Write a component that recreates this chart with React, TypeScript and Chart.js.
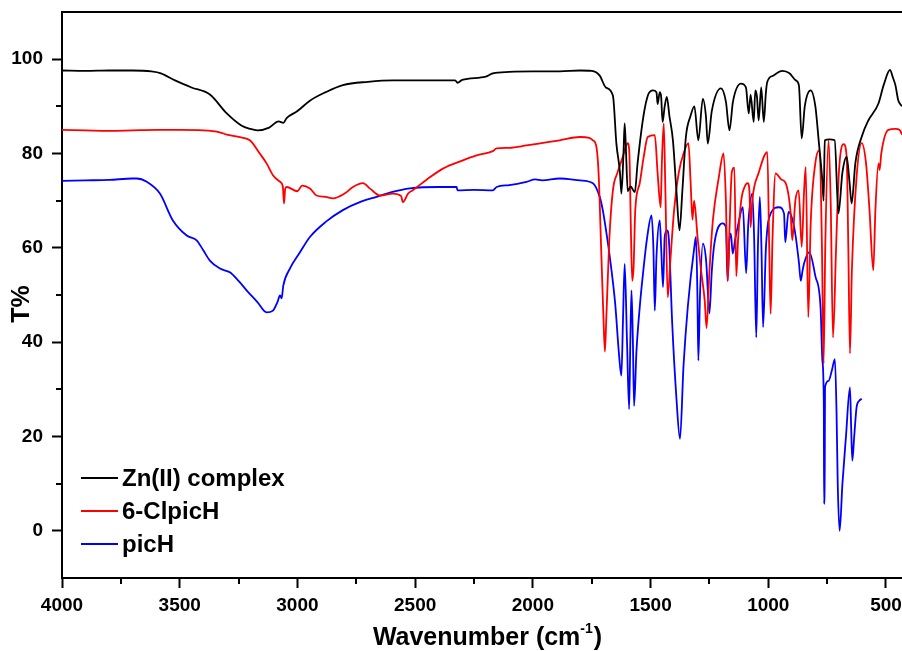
import React, { useEffect, useRef } from "react";
import { Chart, registerables } from "chart.js";
Chart.register(...registerables);

// ---- data (wavenumber cm-1, transmittance %) ----
const zincWn = [4000,3900,3800,3700,3620,3580,3520,3450,3372,3300,3240,3200,3170,3120,3080,3060,3046,3000,2947,2880,2807,2700,2594,2450,2330,2320,2300,2200,2170,2100,2000,1886,1800,1750,1716,1690,1660,1645,1630,1624,1615,1610,1604,1597,1585,1567,1555,1530,1510,1490,1475,1470,1461,1455,1449,1440,1431,1420,1405,1390,1377,1365,1350,1330,1314,1297,1278,1265,1257,1240,1201,1180,1165,1150,1116,1095,1083,1075,1062,1055,1048,1041,1030,1019,1010,1004,980,940,910,883,870,858,845,820,800,786,770,765,760,740,718,702,685,667,655,646,630,600,575,532,510,483,470,460,448,432];
const zincT = [97.6,97.5,97.6,97.6,97.4,97,95.5,94,92.5,88.5,86,85.2,84.9,85.5,86.8,86.5,87.5,89,91.2,93,94.5,95.2,95.5,95.5,95.5,95,95.6,96.3,97,97.3,97.4,97.4,97.6,97.5,96.5,94,92.3,82,76,71.5,80,86.4,80,72,73,71.8,78,88,92.5,93.4,93,90.5,93,92,86.7,90,92,88,82.8,72,63.7,72,83.5,88,90,82.8,91.6,88,82.1,89,93.8,91,84.9,91,94.8,94,88.5,92.5,86.7,93.4,92,87,94,86.7,93,95.2,96.5,97.5,97,95.5,94.5,83.2,90,93.4,90,82.8,74,70,82.8,83,82.8,67.3,76,79.3,74,69.4,78,84,87,90.6,94.5,97.7,96,94.5,91.3,90];

const clWn = [4000,3900,3800,3700,3600,3500,3400,3330,3300,3250,3202,3160,3131,3104,3074,3062,3057,3052,3046,3000,2980,2947,2919,2880,2849,2800,2764,2722,2690,2650,2594,2560,2552,2530,2510,2450,2382,2300,2239,2170,2154,2100,2027,1950,1886,1800,1760,1745,1730,1720,1710,1700,1694,1688,1675,1660,1640,1618,1605,1597,1590,1584,1578,1572,1565,1546,1530,1512,1482,1470,1457,1452,1444,1437,1427,1415,1400,1380,1360,1339,1330,1322,1315,1300,1285,1270,1262,1250,1235,1210,1190,1180,1172,1164,1155,1144,1136,1128,1115,1100,1087,1080,1075,1068,1040,1004,996,990,982,969,945,926,905,898,885,871,858,848,841,830,820,800,782,772,765,758,744,735,725,712,700,680,667,660,653,645,625,603,585,570,554,545,532,527,520,490,460,442,432];
const clT = [85,84.9,84.8,84.9,85,85,84.9,84.5,84,83.5,82.8,80,77.9,75.4,74,73,69.4,72.5,72.9,72,73.2,72.6,71.1,70.8,70.5,71.5,72.9,73.7,72.5,71.1,71.5,71,69.7,71.5,72.2,74.5,76.8,78.5,79.6,80.5,81.1,81.2,81.7,82.3,82.8,83.5,83.3,82.8,81.4,75,60,45,38,45,62,72.2,76,79.3,81.5,82.2,80,65,53,56,68,73.7,79,83.5,83.9,75.8,68.6,78,86.4,72,49.5,58,68,76,80,82.2,74,66,70,62,55,48.8,43,55,66,75,80,70,53,65,76,77,54,62,70,73,73.7,72,64.4,70,76,80.3,60,46,62,75.8,74.5,73.7,67.3,61.6,70,72.2,60.2,72,77.1,45.3,65,78,80.7,60,35.4,60,82.8,70,41,60,76,82,79.3,60,37.6,55,75,82.2,78,68,55.2,68,77.9,76.5,80,85,85.2,85,84];

const picWn = [4000,3900,3800,3700,3683,3640,3584,3529,3470,3428,3400,3372,3329,3287,3250,3216,3170,3131,3104,3085,3074,3067,3060,3032,2990,2947,2880,2807,2730,2664,2600,2522,2400,2324,2320,2250,2170,2154,2100,2027,1990,1960,1886,1800,1745,1716,1703,1690,1673,1650,1635,1624,1617,1610,1600,1591,1586,1581,1575,1570,1560,1545,1532,1515,1496,1488,1482,1475,1461,1455,1447,1440,1430,1422,1408,1390,1375,1360,1342,1314,1307,1301,1297,1290,1278,1264,1250,1240,1229,1194,1180,1173,1165,1159,1151,1140,1130,1108,1094,1085,1068,1060,1051,1044,1036,1029,1022,1010,990,955,933,928,914,890,870,862,855,848,826,800,778,770,764,763,760,759,744,730,717,710,705,697,685,670,653,648,643,635,625,615,603];
const picT = [74.2,74.3,74.4,74.7,74.7,74,71.5,65.8,62.6,61.6,59.5,57.3,55.6,54.8,53,51,48.5,46.3,46.7,48.5,49.9,49.3,52,55.6,59,62.3,65.5,68,69.8,70.8,71.8,72.6,72.9,72.9,72.2,72.3,72.2,72.9,73.3,74,74.5,74.3,74.7,74.3,73.7,70.8,68,64,58,48,38,32.9,45,56.6,40,25.8,40,51,40,26.5,38,48,54.6,62,66.9,60,46.7,58,65.8,60,51.7,62.3,63.7,61.6,43.9,28,19.5,35,47.4,60.2,62.3,50,36.1,50,60.9,57.3,46.1,55,60.9,65.2,64.4,53,62,63,58.8,62,64.4,68.6,54.6,65,71.5,62,41,60,70.8,60,43.2,60,67.3,68.6,67.3,61.2,67.6,64.4,57,53,55,56.7,59.1,54,47.4,36,26.2,5.7,15,30.4,31.8,34,36.4,25,10,0,10,20,30.4,22,14.9,20,26.2,27.5,28];

const seriesNames = ["Zn(II) complex", "6-ClpicH", "picH"];
const seriesColors = ["#000000", "#ff0000", "#0000ff"];

const xMajorTicks = [4000, 3500, 3000, 2500, 2000, 1500, 1000, 500];
const xMinorTicks = [3750, 3250, 2750, 2250, 1750, 1250, 750];
const yMajorTicks = [0, 20, 40, 60, 80, 100];
const yMinorTicks = [10, 30, 50, 70, 90];

const X_MIN = 432, X_MAX = 4000, Y_MIN = -10, Y_MAX = 110;

const toPoints = (wn: number[], t: number[]) => wn.map((x, i) => ({ x, y: t[i] }));

const FONT = '"Liberation Sans", Arial, Helvetica, sans-serif';

export default function App() {
  const ref = useRef<HTMLCanvasElement>(null);

  useEffect(() => {
    document.body.style.margin = "0";
    const canvas = ref.current!;

    const decor = {
      id: "decor",
      afterDraw(chart: any) {
        const { ctx, chartArea: a, scales } = chart;
        const xs = scales.x, ys = scales.y;
        ctx.save();
        ctx.strokeStyle = "#000";
        ctx.lineWidth = 2;
        ctx.beginPath();
        ctx.moveTo(a.left - 1, a.top);
        ctx.lineTo(a.right, a.top);
        ctx.stroke();
        // minor ticks
        xMinorTicks.forEach((v) => {
          const px = Math.round(xs.getPixelForValue(v));
          ctx.beginPath();
          ctx.moveTo(px, a.bottom);
          ctx.lineTo(px, a.bottom + 6);
          ctx.stroke();
        });
        yMinorTicks.forEach((v) => {
          const py = Math.round(ys.getPixelForValue(v));
          ctx.beginPath();
          ctx.moveTo(a.left, py);
          ctx.lineTo(a.left - 6, py);
          ctx.stroke();
        });
        // legend
        const legY = [478, 511, 544];
        chart.data.datasets.forEach((ds: any, i: number) => {
          ctx.strokeStyle = ds.borderColor;
          ctx.lineWidth = 2;
          ctx.beginPath();
          ctx.moveTo(81, legY[i]);
          ctx.lineTo(118, legY[i]);
          ctx.stroke();
          ctx.fillStyle = "#000";
          ctx.font = `bold 24px ${FONT}`;
          ctx.textAlign = "left";
          ctx.textBaseline = "middle";
          ctx.fillText(ds.label, 122, legY[i] + 1);
        });
        // x title with superscript
        ctx.fillStyle = "#000";
        ctx.textBaseline = "alphabetic";
        ctx.textAlign = "left";
        const big = `bold 25px ${FONT}`;
        const small = `bold 14px ${FONT}`;
        const p1 = "Wavenumber (cm";
        const p2 = "-1";
        const p3 = ")";
        ctx.font = big;
        const w1 = ctx.measureText(p1).width;
        const w3 = ctx.measureText(p3).width;
        ctx.font = small;
        const w2 = ctx.measureText(p2).width;
        const total = w1 + w2 + w3;
        const x0 = 487 - total / 2;
        const base = 645;
        ctx.font = big;
        ctx.fillText(p1, x0, base);
        ctx.font = small;
        ctx.fillText(p2, x0 + w1, base - 12);
        ctx.font = big;
        ctx.fillText(p3, x0 + w1 + w2 + 1, base);
        // y title
        ctx.save();
        ctx.translate(22, 304);
        ctx.rotate(-Math.PI / 2);
        ctx.textAlign = "center";
        ctx.textBaseline = "middle";
        ctx.font = big;
        ctx.fillText("T%", 0, 0);
        ctx.restore();
        ctx.restore();
      },
    };

    const chart = new Chart(canvas, {
      type: "line",
      data: {
        datasets: [
          { label: seriesNames[0], data: toPoints(zincWn, zincT), borderColor: seriesColors[0] },
          { label: seriesNames[1], data: toPoints(clWn, clT), borderColor: seriesColors[1] },
          { label: seriesNames[2], data: toPoints(picWn, picT), borderColor: seriesColors[2] },
        ].map((d) => ({
          ...d,
          borderWidth: 1.8,
          pointRadius: 0,
          fill: false,
          cubicInterpolationMode: "monotone" as const,
        })),
      },
      options: {
        animation: false,
        responsive: false,
        maintainAspectRatio: false,
        layout: { padding: { top: 12, left: 0, right: 0, bottom: 0 } },
        plugins: { legend: { display: false }, tooltip: { enabled: false } },
        scales: {
          x: {
            type: "linear",
            min: X_MIN,
            max: X_MAX,
            reverse: true,
            afterBuildTicks: (s: any) => {
              s.ticks = xMajorTicks.map((v) => ({ value: v }));
            },
            afterFit: (s: any) => {
              s.height = 73;
              s.paddingLeft = 0;
              s.paddingRight = 0;
            },
            grid: { drawOnChartArea: false, drawTicks: true, tickLength: 10, tickColor: "#000", tickWidth: 2 },
            border: { display: true, color: "#000", width: 2 },
            ticks: {
              color: "#000",
              font: { family: FONT, size: 19, weight: "bold" },
              padding: 6,
              maxRotation: 0,
              autoSkip: false,
              callback: (v: any) => String(v),
            },
          },
          y: {
            type: "linear",
            min: Y_MIN,
            max: Y_MAX,
            afterBuildTicks: (s: any) => {
              s.ticks = yMajorTicks.map((v) => ({ value: v }));
            },
            afterFit: (s: any) => {
              s.width = 62;
              s.paddingTop = 0;
              s.paddingBottom = 0;
            },
            grid: { drawOnChartArea: false, drawTicks: true, tickLength: 10, tickColor: "#000", tickWidth: 2 },
            border: { display: true, color: "#000", width: 2 },
            ticks: {
              color: "#000",
              font: { family: FONT, size: 19, weight: "bold" },
              padding: 9,
              autoSkip: false,
              callback: (v: any) => String(v),
            },
          },
        },
      },
      plugins: [decor],
    });
    return () => chart.destroy();
  }, []);

  return (
    <div style={{ width: 902, height: 651, background: "#fff" }}>
      <canvas ref={ref} width={902} height={651} style={{ display: "block" }} />
    </div>
  );
}
